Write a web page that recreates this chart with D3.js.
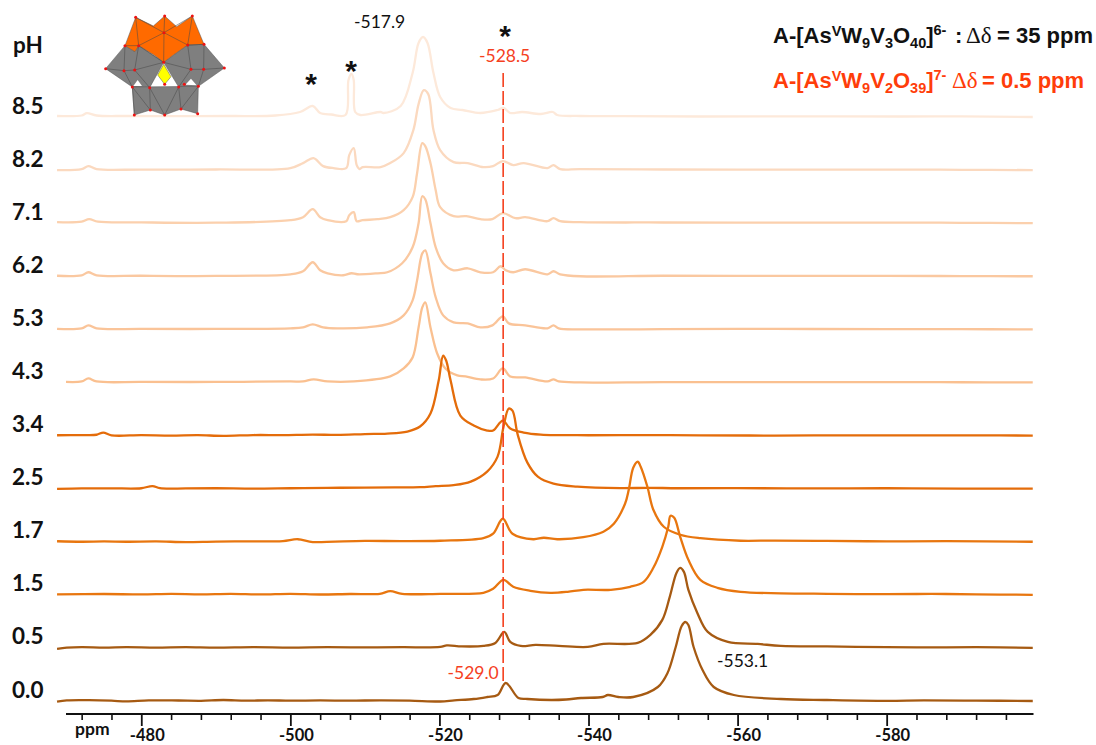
<!DOCTYPE html>
<html><head><meta charset="utf-8">
<script src="https://cdnjs.cloudflare.com/ajax/libs/d3/7.8.5/d3.min.js"></script>
<style>html,body{margin:0;padding:0;background:#fff}svg{display:block}</style></head>
<body><svg id="c" width="1096" height="745"></svg>
<script>
const pHLabels=["8.5","8.2","7.1","6.2","5.3","4.3","3.4","2.5","1.7","1.5","0.5","0.0"];
const seriesColors=["#fde9da","#fbd9bf","#fbd0ad","#fac8a0","#fac499","#fac090","#e46c0a","#e46c0a","#e8760f","#e8760f","#a65a12","#a65a12"];
const xTicksMajor=[-480,-500,-520,-540,-560,-580];
const xTicksMinor=[-472,-476,-484,-488,-492,-496,-504,-508,-512,-516,-524,-528,-532,-536,-544,-548,-552,-556,-564,-568,-572,-576,-584,-588,-592,-596];
const refLine=-528.55;
const s85=[[-468.7,1],[-472,1.5],[-472.7,3.8],[-474,1.5],[-478,1],[-485,.8],[-492,1],[-498,1.5],[-501.3,5],[-503,11],[-504,4],[-505.5,2.5],[-507.4,2],[-507.8,37],[-508.2,43],[-508.5,37],[-508.7,5],[-509.4,2],[-512.1,5],[-512.5,4],[-514.8,11],[-516.4,44],[-517.2,74],[-517.8,80],[-518.4,74],[-519.2,44],[-520.1,20],[-521.5,9],[-523.1,7],[-525.5,4],[-527.8,7],[-528.6,9],[-529.5,4],[-531.1,5],[-533.6,3],[-535.2,5],[-535.8,2],[-538.9,1],[-545,.8],[-555,.5],[-568.5,.6],[-581.9,.5],[-590,.7],[-599.6,0]];
const s82=[[-468.7,0],[-472,1],[-472.9,4],[-474,1],[-480,.5],[-490,.6],[-500,2],[-501.7,7],[-503.1,12],[-504.4,4],[-505.8,2],[-507.5,2],[-507.9,15],[-508.5,22],[-508.9,5],[-509.3,1],[-509.7,3],[-512.1,3],[-513.4,7],[-515.2,17],[-516.5,40],[-517.2,66],[-517.9,80],[-518.5,76],[-519.2,40],[-520.1,20],[-521.9,8],[-523.8,7],[-525.9,3],[-527.2,4],[-528.5,9],[-529.9,5],[-531.3,7],[-534.5,2],[-535.3,5],[-536.2,1],[-538.9,1],[-550,.6],[-565,.4],[-580,.5],[-590,.3],[-599.6,0]];
const s71=[[-468.7,1],[-472,1.5],[-473,4],[-474.2,1.5],[-480,.8],[-490,.5],[-500,3],[-501.7,6],[-503,14],[-504,6],[-505,3],[-507.5,2],[-507.9,8],[-508.5,11],[-508.9,2],[-509.7,3],[-511.7,4],[-513.4,6],[-515.2,13],[-516.4,26],[-517,50],[-517.7,80],[-518.1,77],[-518.8,60],[-519.5,33],[-520.1,16],[-521.9,7],[-523.6,7],[-525.5,4],[-527.1,4],[-528.5,10],[-530.2,5],[-531.5,6],[-534.5,2],[-535.3,5],[-536.2,2],[-538.9,1],[-550,.7],[-565,.5],[-580,.6],[-590,.4],[-599.6,0]];
const s62=[[-468.7,.5],[-472,1],[-472.9,4],[-474,1],[-480,.5],[-490,.3],[-500,2],[-501.7,5],[-503,14],[-504,6],[-505,3],[-507.1,1],[-508.2,3],[-509,2],[-511.7,3],[-513,4],[-515,13],[-516.4,29],[-517.2,53],[-517.7,80],[-518.1,77],[-518.8,53],[-519.5,29],[-520.5,13],[-521.9,6],[-523.8,8],[-525.5,4],[-527.2,4],[-528.2,10],[-528.9,6],[-529.9,4],[-531.5,7],[-534.5,2],[-535.3,5],[-536.2,2],[-538.9,0],[-550,.5],[-565,.3],[-580,.4],[-590,.2],[-599.6,0]];
const s53=[[-468.7,.5],[-472,1],[-472.9,4],[-474,1],[-480,.5],[-490,.4],[-500,1],[-501.7,2],[-503,5],[-504.4,2],[-506.3,1],[-510.3,2],[-513.4,6],[-515.2,14],[-516.4,29],[-517,49],[-517.7,76],[-518.1,79],[-518.8,56],[-519.5,32],[-520.5,14],[-521.9,7],[-523.8,6],[-525.5,2],[-527.1,4],[-528.5,13],[-529.3,6],[-531.5,4],[-534.5,1],[-535.3,4],[-536,1],[-538.9,0],[-550,.3],[-565,.4],[-580,.3],[-590,.2],[-599.6,0]];
const s43=[[-469.9,.5],[-472,1],[-472.9,4],[-474,1],[-480,.5],[-490,.5],[-500,1],[-501.7,1],[-503.1,3],[-505,1],[-508.5,1],[-513.4,6],[-515.2,14],[-516.4,25],[-517.2,55],[-517.7,75],[-518.1,80],[-518.8,55],[-519.7,29],[-520.8,14],[-522.4,7],[-523.5,6],[-525.5,3],[-527.2,4],[-528.5,14],[-529.5,6],[-531.5,5],[-534.5,1],[-535.3,3],[-536,1],[-538.9,0],[-550,.4],[-565,.3],[-580,.4],[-590,.2],[-599.6,0]];
const s34=[[-468.7,.3],[-472,.5],[-474,.8],[-474.9,3],[-476,.2],[-480,.4],[-484,0],[-487.6,.4],[-491,-.3],[-495,.5],[-499,.5],[-503,1],[-506.3,.6],[-510,1.5],[-513,2],[-515.7,4],[-517.4,9],[-518.8,22],[-519.9,55],[-520.5,80],[-520.9,75],[-521.5,55],[-522.8,20],[-524.6,10],[-526.4,5],[-527.2,5],[-528.5,15],[-529.5,7],[-531.3,3],[-533.6,1],[-540,.3],[-548,.5],[-555,.2],[-565,0],[-575,.2],[-585,.1],[-592,.2],[-599.6,0]];
const s25=[[-468.7,-.3],[-472,.2],[-476,.3],[-480,.4],[-481.5,2.6],[-482.5,.4],[-486,.2],[-490,.4],[-495,0],[-500,.4],[-505,.8],[-510,1],[-514,1.2],[-517.4,1.5],[-519.5,2.5],[-521.9,3.5],[-524.2,7],[-526.4,17],[-527.8,32],[-528.6,62],[-529.3,80],[-529.8,78],[-530.5,54],[-531.8,26],[-533.2,12],[-535.3,5],[-538.5,2],[-544.3,.5],[-548,.8],[-552,.4],[-560,.5],[-570,.2],[-580,.4],[-590,.1],[-599.6,0]];
const s17=[[-468.7,.5],[-472,0],[-475,.3],[-478,0],[-482,.3],[-486,-.3],[-490,.2],[-495,.3],[-499,.7],[-501,2.5],[-503,-.3],[-506,.2],[-510,.8],[-515,.6],[-520.1,1],[-525.9,3.5],[-527.2,8],[-528.5,23],[-529.8,8],[-532.6,2.5],[-534,4],[-535.8,2.5],[-539.3,4.5],[-542,10],[-543.4,18],[-544.9,38],[-545.4,52],[-546,74],[-546.6,80],[-547,75],[-547.9,55],[-548.7,32],[-550.1,15],[-552.3,7],[-555,3.5],[-560.4,1],[-565,1.2],[-572,.8],[-580,.4],[-588,.6],[-599.6,0]];
const s15=[[-468.7,.5],[-475,.8],[-480,.4],[-484,.9],[-488,.5],[-492,1],[-496,.4],[-500,1],[-504,.3],[-508,.8],[-512,1],[-513.4,3.6],[-515,1],[-520.1,1],[-525.9,2],[-527.2,6],[-528.6,15],[-529.9,8],[-532.2,4],[-534.9,2],[-537.2,3],[-539.3,5],[-543,5],[-545.6,8],[-547.4,13],[-548.7,27],[-549.9,48],[-550.7,68],[-551,79],[-551.5,77],[-552.3,58],[-553.4,35],[-555,15],[-557.3,7],[-560.4,3],[-565.8,1.5],[-572,1],[-580,.6],[-586,.9],[-592,.5],[-599.6,0]];
const s05=[[-468.7,-1],[-470,.2],[-472,.8],[-475,.3],[-478,.7],[-482,.3],[-486,.7],[-490,.2],[-495,.7],[-500,.3],[-505,.7],[-510,.5],[-515,.7],[-520.1,1],[-521,2.5],[-523,1.5],[-525.9,2],[-527.5,5],[-528.7,16],[-529.5,6],[-530.9,2],[-532.9,3],[-536,2],[-539.9,1],[-542,4],[-546.6,5],[-548.3,13],[-549.9,28],[-550.9,51],[-551.8,75],[-552.3,80],[-552.8,76],[-553.4,58],[-554.6,35],[-556,16],[-558.7,6],[-562.7,4],[-565.8,2],[-572,1.5],[-580,.7],[-586,.5],[-592,.7],[-599.6,0]];
const s00=[[-468.7,-.7],[-470,.6],[-473,.8],[-476,.3],[-478,-.4],[-481,.6],[-485,.5],[-488,.2],[-491,1],[-494,.3],[-497,.7],[-500,.3],[-504,.6],[-508,.3],[-512,.7],[-516,.4],[-520.1,-.5],[-522,.6],[-524.6,2],[-526.4,4],[-527.8,6],[-528.9,18],[-530.6,3],[-531.8,2],[-535,1],[-537,1.5],[-539,3],[-541.9,4],[-542.6,6],[-544,4],[-546,4],[-549.3,14],[-550.6,28],[-551.7,54],[-552.5,75],[-553,79],[-553.4,76],[-554.1,54],[-555.3,31],[-556.8,14],[-559.5,6],[-565.8,2],[-572,1],[-580,.2],[-585,.6],[-592,.4],[-599.6,0]];
const allSeries=[s85,s82,s71,s62,s53,s43,s34,s25,s17,s15,s05,s00];

const polyOrange=[[407,52,460,78,494,48,530,80,577,48,612,133,563,135,520,165,491,187,462,165,416,137,405,155,375,137]];
const polyGray=[[375,137,317,206,397,261,449,263,491,187,416,137,405,155],[563,135,612,133,673,204,595,259,536,261,491,187],[397,261,595,259,593,341,543,327,494,345,451,330,403,345]];
const polyWhite=[[400,258,413,240,426,258],[455,256,474,232,490,254],[500,254,513,238,527,256],[556,254,573,236,590,256]];
const polyYellow=[[491,193,513,230,494,253,473,225]];
const polyEdges=[[407,52,416,137],[407,52,492,98],[494,48,492,98],[577,48,492,98],[577,48,563,135],[492,98,416,137],[492,98,563,135],[492,98,491,187],[375,137,416,137],[563,135,612,133],[375,137,372,212],[416,137,404,210],[416,137,491,187],[372,212,317,206],[372,212,404,210],[404,210,491,187],[404,210,449,263],[372,212,397,261],[563,135,573,208],[612,133,611,208],[611,208,673,204],[573,208,611,208],[573,208,491,187],[573,208,536,261],[611,208,595,259],[449,263,451,330],[449,263,494,345],[536,261,543,327],[536,261,494,345],[595,259,543,327],[397,261,451,330],[397,261,403,345]];
const polyNodes=[[407,52],[494,48],[577,48],[492,98],[375,137],[416,137],[563,135],[612,133],[317,206],[372,212],[404,210],[573,208],[611,208],[673,204],[397,261],[449,263],[536,261],[595,259],[451,330],[543,327],[403,345],[494,345],[593,341],[491,187],[494,253],[553,253]];

const svg=d3.select("#c");
const x=d3.scaleLinear().domain([-469.9,-599.7]).range([66,1033.5]);
const rowY=d3.scalePoint().domain(pHLabels).range([117,701]);
const inten=d3.scaleLinear().domain([0,100]).range([0,-100]);
const line=d3.line().x(d=>x(d[0])).y(d=>inten(d[1])).curve(d3.curveCatmullRom.alpha(0.5));

const g=svg.append("g");
g.selectAll("path").data(allSeries).join("path")
 .attr("d",line).attr("transform",(d,i)=>`translate(0,${rowY(pHLabels[i])})`)
 .attr("fill","none").attr("stroke",(d,i)=>seriesColors[i]).attr("stroke-width",2.3).attr("stroke-linejoin","round");

svg.append("line").attr("x1",x(refLine)).attr("x2",x(refLine)).attr("y1",73).attr("y2",682)
 .attr("stroke","#f5401e").attr("stroke-width",1.6).attr("stroke-dasharray","14 4");

const pts=a=>d3.range(0,a.length,2).map(i=>a[i]+","+a[i+1]).join(" ");
const ins=svg.append("g").attr("transform","scale(0.33333)");
const addP=(data,fill)=>ins.append("g").selectAll("polygon").data(data).join("polygon").attr("points",pts).attr("fill",fill).attr("stroke","#555").attr("stroke-width",1.5);
addP(polyGray,"#7f7f7f");
addP(polyOrange,"#ff6a00");
ins.append("g").selectAll("polygon").data(polyWhite).join("polygon").attr("points",pts).attr("fill","#fff");
ins.append("g").selectAll("line").data(polyEdges).join("line").attr("x1",d=>d[0]).attr("y1",d=>d[1]).attr("x2",d=>d[2]).attr("y2",d=>d[3]).attr("stroke","#4a4a4a").attr("stroke-width",1.6);
addP(polyYellow,"#ffff00");
ins.append("g").selectAll("circle").data(polyNodes).join("circle").attr("cx",d=>d[0]).attr("cy",d=>d[1]).attr("r",4.5).attr("fill","#ee1111");

const axG=svg.append("g").attr("transform","translate(0,714)");
axG.call(d3.axisBottom(x).tickValues(xTicksMinor).tickSize(6).tickFormat(""));
axG.select(".domain").attr("stroke","#111").attr("stroke-width",2).attr("d",`M${x.range()[0]},0H${x.range()[1]}`);
axG.selectAll(".tick line").attr("stroke","#111").attr("stroke-width",1.6);
const axM=svg.append("g").attr("transform","translate(0,714)");
axM.call(d3.axisBottom(x).tickValues(xTicksMajor).tickSize(12).tickFormat(d=>d));
axM.select(".domain").remove();
axM.selectAll(".tick line").attr("stroke","#111").attr("stroke-width",1.8);
axM.selectAll(".tick text").attr("x",5.5).attr("y",27.2).attr("dy",0).attr("fill","#111")
 .style("font","bold 16.5px Lato");

const T=(s,xp,yp,o={})=>svg.append("text").text(s).attr("x",xp).attr("y",yp).attr("text-anchor",o.a||"start").attr("fill",o.c||"#111").style("font",o.f||"17.5px Lato");
svg.append("g").selectAll("text").data(pHLabels).join("text").text(d=>d)
 .attr("x",12).attr("y",d=>rowY(d)-3.5).attr("fill","#111").style("font","bold 22.5px Lato");
T("pH",13,53,{f:"bold 22.5px Lato"});
T("ppm",75,735,{f:"bold 17.5px Lato"});
T("-517.9",354,28);
T("-553.1",717,667);
T("-528.5",479,62,{c:"#f5401e"});
T("-529.0",447.5,679,{c:"#f5401e"});
const star="bold 30px 'Liberation Sans'";
T("*",311,94,{a:"middle",f:star});
T("*",351,81,{a:"middle",f:star});
T("*",505,46,{a:"middle",f:star});

function legend(yp,color,sup,sub1,sub2,tail){
 const t=svg.append("text").attr("x",773).attr("y",yp).attr("fill",color).style("font","bold 22px 'Liberation Sans'");
 const parts=[["A-[As",0],["V",-7,1],["W",7],["9",5,1],["V",-5],[sub1,5,1],["O",-5],[sub2,5,1],["]",-5],[sup,-8,1]];
 parts.forEach(p=>{const s=t.append("tspan").text(p[0]).attr("dy",p[1]); if(p[2]) s.style("font-size","14.5px");});
 let dy=8;
 if(tail.colon!==null){t.append("tspan").text(":").attr("x",tail.colon).attr("dy",dy);dy=0;}
 t.append("tspan").text("Δδ").attr("x",tail.delta).attr("dy",dy).style("font-family","'Liberation Serif'").style("font-weight","normal").style("font-size","23px");
 t.append("tspan").text(tail.rest).attr("x",tail.eq);
}
legend(43,"#111","6-","3","40",{colon:955,delta:966,eq:997,rest:"= 35 ppm"});
legend(88,"#ff3d0a","7-","2","39",{colon:null,delta:952,eq:982,rest:"= 0.5 ppm"});
</script></body></html>
